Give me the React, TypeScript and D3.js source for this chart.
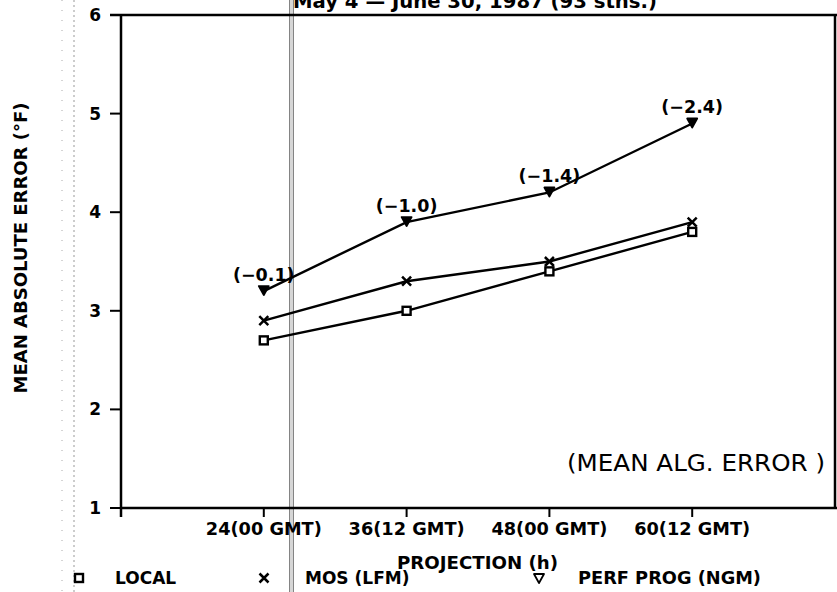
import React from "react";
import * as d3 from "d3";

// Forecast projections (hours) and mean absolute temperature errors (°F)
const projections = [24, 36, 48, 60];
const projectionLabels = ["24(00 GMT)", "36(12 GMT)", "48(00 GMT)", "60(12 GMT)"];
const localErr = [2.7, 3.0, 3.4, 3.8];
const mosErr = [2.9, 3.3, 3.5, 3.9];
const perfProgErr = [3.2, 3.9, 4.2, 4.9];
const perfProgAlgErr = ["(\u22120.1)", "(\u22121.0)", "(\u22121.4)", "(\u22122.4)"];
const yTicks = [1, 2, 3, 4, 5, 6];

const W = 837;
const H = 592;
const FONT = "'DejaVu Sans', Verdana, sans-serif";

export default function App() {
  const left = 121;
  const right = 835;
  const top = 15;
  const bottom = 508;

  const x = d3.scaleLinear().domain([12, 72]).range([left, right]);
  const y = d3.scaleLinear().domain([1, 6]).range([bottom, top]);

  const line = d3
    .line<number>()
    .x((_, i) => x(projections[i]))
    .y((v) => y(v));

  const square = (cx: number, cy: number, k: string) => (
    <rect key={k} x={cx - 4} y={cy - 4} width={8} height={8} fill="white" stroke="black" strokeWidth={2.4} />
  );
  const cross = (cx: number, cy: number, k: string) => (
    <path key={k} d={`M${cx - 4.5},${cy - 4.5}L${cx + 4.5},${cy + 4.5}M${cx + 4.5},${cy - 4.5}L${cx - 4.5},${cy + 4.5}`} stroke="black" strokeWidth={2.5} />
  );
  const tri = (cx: number, cy: number, k: string, fill = "black") => (
    <path key={k} d={`M${cx - 5},${cy - 5}L${cx + 5},${cy - 5}L${cx},${cy + 4}Z`} fill={fill} stroke="black" strokeWidth={1.8} strokeLinejoin="round" />
  );

  return (
    <svg width={W} height={H} style={{ position: "absolute", left: 0, top: 0, background: "white" }} fontFamily={FONT}>
      <rect x={0} y={0} width={W} height={H} fill="white" />

      {/* faint vertical fold lines */}
      <line x1={62} x2={62} y1={0} y2={H} stroke="#aaa" strokeWidth={1} strokeDasharray="1 9" />
      <line x1={74} x2={74} y1={0} y2={H} stroke="#999" strokeWidth={1} strokeDasharray="2 3" />
      <rect x={289.5} y={-1} width={4} height={H + 2} fill="#d6d6d6" stroke="#7a7a7a" strokeWidth={0.9} />

      {/* title (partially clipped at top) */}
      <text x={293} y={8} fontSize={19} fontWeight="bold" textLength={364} lengthAdjust="spacingAndGlyphs">
        May 4 — June 30, 1987 (93 stns.)
      </text>

      {/* frame */}
      <line x1={left - 11} x2={W} y1={top} y2={top} stroke="black" strokeWidth={2.5} />
      <line x1={right} x2={right} y1={top} y2={bottom} stroke="black" strokeWidth={2.5} />
      <line x1={left} x2={left} y1={top} y2={bottom + 9} stroke="black" strokeWidth={2.5} />
      <line x1={left} x2={W} y1={bottom} y2={bottom} stroke="black" strokeWidth={2.5} />

      {/* y axis ticks */}
      {yTicks.map((t) => (
        <g key={t}>
          <line x1={left - 11} x2={left} y1={y(t)} y2={y(t)} stroke="black" strokeWidth={2} />
          <text x={101} y={y(t) + 6} fontSize={17} fontWeight="bold" textAnchor="end">{t}</text>
        </g>
      ))}

      {/* x axis ticks */}
      {projections.map((p, i) => (
        <g key={p}>
          <line x1={x(p)} x2={x(p)} y1={bottom} y2={bottom + 9} stroke="black" strokeWidth={2} />
          <text x={x(p) - 58} y={535} fontSize={17.5} fontWeight="bold" textLength={116} lengthAdjust="spacingAndGlyphs">
            {projectionLabels[i]}
          </text>
        </g>
      ))}

      <text x={397} y={569} fontSize={17.5} fontWeight="bold" textLength={161} lengthAdjust="spacingAndGlyphs">PROJECTION (h)</text>
      <text transform={`translate(26.5,248) rotate(-90)`} fontSize={18} fontWeight="bold" textAnchor="middle">MEAN ABSOLUTE ERROR (°F)</text>

      {/* series lines */}
      <path d={line(localErr) || ""} fill="none" stroke="black" strokeWidth={2.4} />
      <path d={line(mosErr) || ""} fill="none" stroke="black" strokeWidth={2.4} />
      <path d={line(perfProgErr) || ""} fill="none" stroke="black" strokeWidth={2.4} />

      {localErr.map((v, i) => square(x(projections[i]), y(v), `s${i}`))}
      {mosErr.map((v, i) => cross(x(projections[i]), y(v), `c${i}`))}
      {perfProgErr.map((v, i) => tri(x(projections[i]), y(v), `t${i}`))}

      {perfProgErr.map((v, i) => (
        <text key={`a${i}`} x={x(projections[i])} y={y(v) - 10} fontSize={17.5} fontWeight="bold" textAnchor="middle">
          {perfProgAlgErr[i]}
        </text>
      ))}

      <text x={825} y={471} fontSize={22.5} textAnchor="end" textLength={258} lengthAdjust="spacingAndGlyphs">(MEAN ALG. ERROR )</text>

      {/* legend */}
      {square(79, 578, "lg1")}
      <text x={115} y={584} fontSize={17} fontWeight="bold">LOCAL</text>
      {cross(264, 578, "lg2")}
      <text x={305} y={584} fontSize={17} fontWeight="bold">MOS (LFM)</text>
      {tri(539, 579, "lg3", "white")}
      <text x={578} y={584} fontSize={17} fontWeight="bold" textLength={183} lengthAdjust="spacingAndGlyphs">PERF PROG (NGM)</text>
    </svg>
  );
}
